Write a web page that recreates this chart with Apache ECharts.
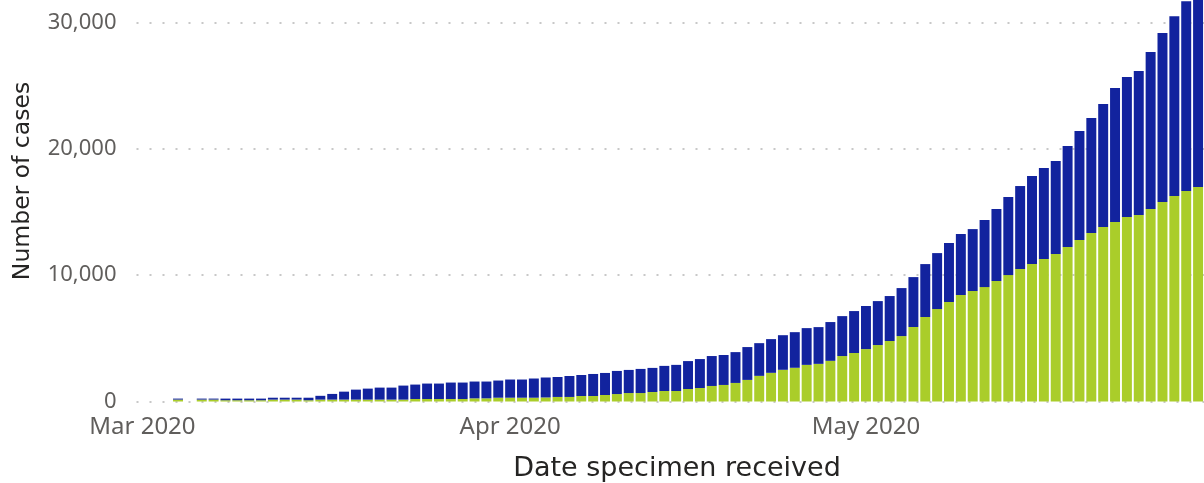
<!DOCTYPE html>
<html>
<head>
<meta charset="utf-8">
<script src="https://cdn.jsdelivr.net/npm/echarts@6/dist/echarts.min.js"></script>
<style>
  html, body { margin: 0; padding: 0; background: #ffffff; }
  #chart { width: 1204px; height: 483px; }
</style>
</head>
<body>
<div id="chart"></div>
<script>
// Daily categories: 1 Mar 2020 .. 29 May 2020 (90 days)
const startDate = new Date(Date.UTC(2020, 2, 1));
const dayCount = 90;
const categories = [];
for (let i = 0; i < dayCount; i++) {
  const d = new Date(startDate.getTime() + i * 86400000);
  categories.push(d.toISOString().slice(0, 10));
}

const monthTickLabels = { '2020-03-01': 'Mar 2020', '2020-04-01': 'Apr 2020', '2020-05-01': 'May 2020' };
const yTickValues = [0, 10000, 20000, 30000];

// Lower (green) segment
const greenVals = [
  null, null, null, 150, null, 150, 150, 100, 100, 100,
  100, 150, 150, 150, 100, 150, 150, 150, 150, 150,
  150, 150, 150, 200, 200, 200, 200, 200, 250, 250,
  300, 300, 300, 300, 320, 360, 360, 435, 435, 515,
  590, 670, 670, 750, 830, 830, 990, 1070, 1230, 1310,
  1470, 1710, 2030, 2270, 2510, 2670, 2900, 2980, 3220, 3600,
  3840, 4150, 4470, 4790, 5180, 5900, 6690, 7320, 7880, 8430,
  8750, 9060, 9540, 10010, 10490, 10880, 11280, 11680, 12230, 12780,
  13340, 13810, 14210, 14600, 14760, 15240, 15790, 16270, 16660, 16980
];

// Upper (blue) segment
const blueVals = [
  null, null, null, 80, null, 80, 80, 130, 130, 130,
  130, 150, 150, 150, 200, 300, 450, 630, 790, 870,
  950, 950, 1110, 1140, 1220, 1220, 1300, 1300, 1330, 1330,
  1360, 1440, 1440, 1520, 1580, 1580, 1660, 1665, 1745, 1745,
  1830, 1830, 1910, 1910, 1990, 2070, 2210, 2290, 2370, 2370,
  2440, 2600, 2590, 2670, 2740, 2820, 2910, 2910, 3070, 3160,
  3320, 3410, 3480, 3560, 3800, 3950, 4190, 4430, 4670, 4830,
  4900, 5310, 5700, 6180, 6570, 6970, 7200, 7360, 7990, 8630,
  9100, 9740, 10610, 11090, 11400, 12430, 13380, 14240, 15040, 15720
];

const chart = echarts.init(document.getElementById('chart'), null, { renderer: 'canvas' });

const labelFont = '"Noto Sans", "Open Sans", sans-serif';
const titleFont = '"DejaVu Sans", sans-serif';

chart.setOption({
  animation: false,
  backgroundColor: '#ffffff',
  grid: {
    left: 136.5, right: 0, top: -103.7, bottom: 81.5,
    containLabel: false,
    outerBoundsMode: 'none'
  },
  xAxis: {
    type: 'category',
    data: categories,
    boundaryGap: true,
    axisLine: { show: false },
    axisTick: { show: false },
    axisLabel: {
      interval: (idx, val) => monthTickLabels[val] !== undefined,
      formatter: (val) => monthTickLabels[val] || '',
      color: '#605E5C',
      fontFamily: labelFont,
      fontSize: 24,
      margin: 14
    },
    splitLine: { show: false }
  },
  yAxis: {
    type: 'value',
    min: 0,
    max: 40000,
    interval: 10000,
    axisLine: { show: false },
    axisTick: { show: false },
    axisLabel: {
      color: '#605E5C',
      fontFamily: labelFont,
      fontSize: 22,
      margin: 20,
      formatter: (v) => yTickValues.includes(v) ? v.toLocaleString('en-US') : ''
    },
    splitLine: {
      show: true,
      lineStyle: { color: '#c8c8c8', width: 2, type: [2, 11], dashOffset: 0 }
    }
  },
  graphic: [
    {
      type: 'text',
      x: 23, y: 181,
      rotation: Math.PI / 2,
      style: {
        text: 'Number of cases',
        fill: '#252423',
        font: '23.5px ' + titleFont,
        textAlign: 'center',
        textVerticalAlign: 'middle'
      }
    },
    {
      type: 'text',
      x: 677, y: 469,
      style: {
        text: 'Date specimen received',
        fill: '#252423',
        font: '27px ' + titleFont,
        textAlign: 'center',
        textVerticalAlign: 'middle'
      }
    }
  ],
  series: [
    {
      name: 'Green',
      type: 'bar',
      stack: 'cases',
      data: greenVals,
      barCategoryGap: '16%',
      itemStyle: { color: '#AACD2A' }
    },
    {
      name: 'Blue',
      type: 'bar',
      stack: 'cases',
      data: blueVals,
      barCategoryGap: '16%',
      itemStyle: { color: '#12239E' }
    }
  ]
});
</script>
</body>
</html>
